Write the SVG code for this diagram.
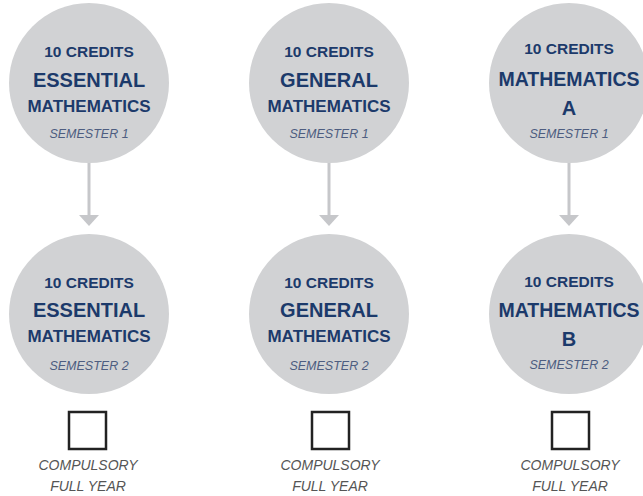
<svg xmlns="http://www.w3.org/2000/svg" width="643" height="496" viewBox="0 0 643 496">
<defs>
<style>
.c{fill:#d1d2d4}
.t{font-family:"Liberation Sans",Arial,sans-serif;font-weight:bold;fill:#1c3a6b;text-anchor:middle}
.cr{font-size:15.5px}
.big{font-size:20px}
.mid{font-size:17px}
.sem{font-family:"Liberation Sans",Arial,sans-serif;font-style:italic;font-size:12.5px;fill:#4d5d80;text-anchor:middle}
.lab{font-family:"Liberation Sans",Arial,sans-serif;font-style:italic;font-size:14px;fill:#555;text-anchor:middle}
.box{fill:none;stroke:#222;stroke-width:2.5}
.ln{stroke:#c6c7ca;stroke-width:3}
.ah{fill:#c6c7ca}
</style>
</defs>
<rect width="643" height="496" fill="#fff"/>
<g id="connectors">
<line class="ln" x1="89" y1="162" x2="89" y2="217"/><polygon class="ah" points="79,215 99,215 89,226"/>
<line class="ln" x1="329" y1="162" x2="329" y2="217"/><polygon class="ah" points="319,215 339,215 329,226"/>
<line class="ln" x1="569" y1="162" x2="569" y2="217"/><polygon class="ah" points="559,215 579,215 569,226"/>
</g>
<g id="ess1"><circle class="c" cx="89" cy="83" r="80"/>
<text class="t cr" x="89" y="57">10 CREDITS</text>
<text class="t big" x="89" y="87">ESSENTIAL</text>
<text class="t mid" x="89" y="112">MATHEMATICS</text>
<text class="sem" x="89" y="138">SEMESTER 1</text></g>
<g id="gen1"><circle class="c" cx="329" cy="83" r="80"/>
<text class="t cr" x="329" y="57">10 CREDITS</text>
<text class="t big" x="329" y="87">GENERAL</text>
<text class="t mid" x="329" y="112">MATHEMATICS</text>
<text class="sem" x="329" y="138">SEMESTER 1</text></g>
<g id="matA"><circle class="c" cx="569" cy="83" r="80"/>
<text class="t cr" x="569" y="54">10 CREDITS</text>
<text class="t big" x="569" y="86" style="font-size:19.5px">MATHEMATICS</text>
<text class="t big" x="569" y="115">A</text>
<text class="sem" x="569" y="138">SEMESTER 1</text></g>
<g id="ess2"><circle class="c" cx="89" cy="314" r="80"/>
<text class="t cr" x="89" y="288">10 CREDITS</text>
<text class="t big" x="89" y="317">ESSENTIAL</text>
<text class="t mid" x="89" y="342">MATHEMATICS</text>
<text class="sem" x="89" y="370">SEMESTER 2</text></g>
<g id="gen2"><circle class="c" cx="329" cy="314" r="80"/>
<text class="t cr" x="329" y="288">10 CREDITS</text>
<text class="t big" x="329" y="317">GENERAL</text>
<text class="t mid" x="329" y="342">MATHEMATICS</text>
<text class="sem" x="329" y="370">SEMESTER 2</text></g>
<g id="matB"><circle class="c" cx="569" cy="314" r="80"/>
<text class="t cr" x="569" y="287">10 CREDITS</text>
<text class="t big" x="569" y="317" style="font-size:19.5px">MATHEMATICS</text>
<text class="t big" x="569" y="346">B</text>
<text class="sem" x="569" y="369">SEMESTER 2</text></g>
<g id="chk1"><rect class="box" x="69" y="412" width="37" height="37"/>
<text class="lab" x="88" y="470">COMPULSORY</text><text class="lab" x="88" y="491">FULL YEAR</text></g>
<g id="chk2"><rect class="box" x="312" y="412" width="37" height="37"/>
<text class="lab" x="330" y="470">COMPULSORY</text><text class="lab" x="330" y="491">FULL YEAR</text></g>
<g id="chk3"><rect class="box" x="552" y="412" width="37" height="37"/>
<text class="lab" x="570" y="470">COMPULSORY</text><text class="lab" x="570" y="491">FULL YEAR</text></g>
</svg>
